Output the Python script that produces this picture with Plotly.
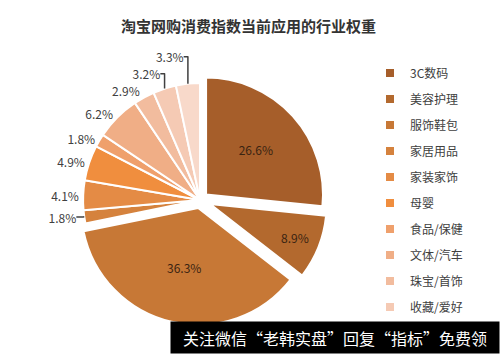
import plotly.graph_objects as go

categories = ["3C数码", "美容护理", "服饰鞋包", "家居用品", "家装家饰", "母婴",
              "食品/保健", "文体/汽车", "珠宝/首饰", "收藏/爱好", "生活服务"]
values = [26.6, 8.9, 36.3, 1.8, 4.1, 4.9, 1.8, 6.2, 2.9, 3.2, 3.3]
colors = ["#A65E2A", "#B3692E", "#C77836", "#D5823D", "#E48B45", "#F08E3E",
          "#EFA06C", "#F0AE86", "#F2BC9E", "#F5CAB4", "#F8D9CA"]
pulls = [0.07, 0.09, 0.07, 0, 0, 0, 0, 0, 0, 0, 0]
positions = ["inside", "inside", "inside"] + ["outside"] * 8

FONT = "Noto Sans CJK SC"

fig = go.Figure()
fig.add_trace(go.Pie(
    labels=categories, values=values, sort=False, direction="clockwise",
    rotation=0, pull=pulls, showlegend=False,
    marker=dict(colors=colors, line=dict(color="white", width=2)),
    texttemplate="%{value:.1f}%", textposition=positions,
    insidetextorientation="horizontal",
    insidetextfont=dict(color="#3a2412", size=12, family=FONT),
    outsidetextfont=dict(color="#404040", size=12, family=FONT),
    hoverinfo="label+percent",
    domain=dict(x=[0.145, 0.655], y=[0.075, 0.795]),
))

for c, col in zip(categories, colors):
    fig.add_trace(go.Scatter(
        x=[None], y=[None], mode="markers", name=c, legendgroup=c,
        marker=dict(symbol="square", size=8, color=col),
        showlegend=True,
    ))

fig.update_layout(
    width=500, height=354,
    margin=dict(l=0, r=0, t=0, b=0),
    paper_bgcolor="white", plot_bgcolor="white",
    xaxis=dict(visible=False), yaxis=dict(visible=False),
    title=dict(text="<b>淘宝网购消费指数当前应用的行业权重</b>",
               x=0.497, xanchor="center", y=0.925, yanchor="middle",
               font=dict(family=FONT, size=15, color="#333333")),
    legend=dict(x=0.74, y=0.835, xanchor="left", yanchor="top",
                font=dict(family=FONT, size=12, color="#404040"),
                tracegroupgap=7, bgcolor="rgba(0,0,0,0)"),
    annotations=[dict(
        text="关注微信“老韩实盘”回复“指标”免费领",
        xref="paper", yref="paper", x=1.0, y=0.0, xanchor="right", yanchor="bottom",
        showarrow=False, bgcolor="black", width=322, height=25, borderpad=3,
        font=dict(family=FONT, size=16, color="white"),
    )],
)

fig.write_html("out.html")
